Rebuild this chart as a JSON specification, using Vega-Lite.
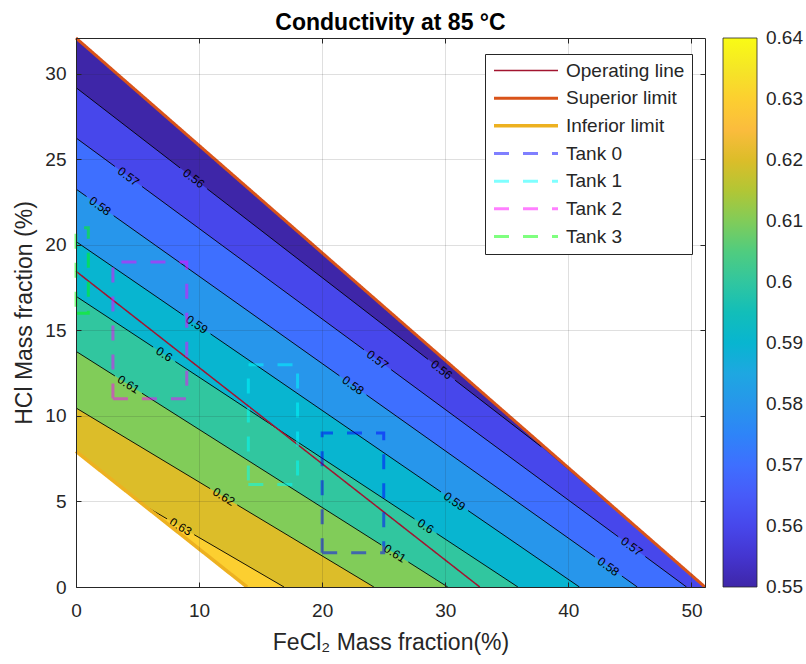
{
  "$schema": "https://vega.github.io/schema/vega-lite/v6.json",
  "width": 629,
  "height": 549,
  "autosize": {"type": "none"},
  "padding": {"left": 76, "top": 38, "right": 101, "bottom": 77},
  "background": "white",
  "title": {
    "text": "Conductivity at 85 °C",
    "fontSize": 23,
    "fontWeight": "bold",
    "font": "Liberation Sans",
    "color": "#000000",
    "anchor": "middle",
    "frame": "group",
    "baseline": "alphabetic",
    "offset": 4,
    "dy": 25
  },
  "datasets": {
    "bands": [
      {"level": 0.55, "FeCl2": 0, "HCl": 32.1},
      {"level": 0.55, "FeCl2": 51.1, "HCl": 0},
      {"level": 0.56, "FeCl2": 0, "HCl": 29.2},
      {"level": 0.56, "FeCl2": 37.8, "HCl": 8.2},
      {"level": 0.56, "FeCl2": 51.1, "HCl": 0},
      {"level": 0.57, "FeCl2": 0, "HCl": 26.26},
      {"level": 0.57, "FeCl2": 49.6, "HCl": 0},
      {"level": 0.58, "FeCl2": 0, "HCl": 23.27},
      {"level": 0.58, "FeCl2": 45.6, "HCl": 0},
      {"level": 0.59, "FeCl2": 0, "HCl": 20.2},
      {"level": 0.59, "FeCl2": 40.9, "HCl": 0},
      {"level": 0.6, "FeCl2": 0, "HCl": 17.0},
      {"level": 0.6, "FeCl2": 35.9, "HCl": 0},
      {"level": 0.61, "FeCl2": 0, "HCl": 13.78},
      {"level": 0.61, "FeCl2": 30.2, "HCl": 0},
      {"level": 0.62, "FeCl2": 0, "HCl": 10.47},
      {"level": 0.62, "FeCl2": 24.2, "HCl": 0},
      {"level": 0.63, "FeCl2": 0, "HCl": 7.08},
      {"level": 0.63, "FeCl2": 16.9, "HCl": 0}
    ],
    "contours": [
      {"level": 0.56, "seg": "56a", "FeCl2": 0, "HCl": 29.2},
      {"level": 0.56, "seg": "56a", "FeCl2": 8.46, "HCl": 24.5},
      {"level": 0.56, "seg": "56b", "FeCl2": 10.66, "HCl": 23.28},
      {"level": 0.56, "seg": "56b", "FeCl2": 28.6, "HCl": 13.31},
      {"level": 0.56, "seg": "56c", "FeCl2": 30.8, "HCl": 12.09},
      {"level": 0.56, "seg": "56c", "FeCl2": 37.8, "HCl": 8.2},
      {"level": 0.57, "seg": "57a", "FeCl2": 0, "HCl": 26.26},
      {"level": 0.57, "seg": "57a", "FeCl2": 3.16, "HCl": 24.59},
      {"level": 0.57, "seg": "57b", "FeCl2": 5.36, "HCl": 23.42},
      {"level": 0.57, "seg": "57b", "FeCl2": 23.4, "HCl": 13.87},
      {"level": 0.57, "seg": "57c", "FeCl2": 25.6, "HCl": 12.71},
      {"level": 0.57, "seg": "57c", "FeCl2": 44.05, "HCl": 2.94},
      {"level": 0.57, "seg": "57d", "FeCl2": 46.25, "HCl": 1.78},
      {"level": 0.57, "seg": "57d", "FeCl2": 49.6, "HCl": 0},
      {"level": 0.58, "seg": "58a", "FeCl2": 0, "HCl": 23.27},
      {"level": 0.58, "seg": "58a", "FeCl2": 0.86, "HCl": 22.83},
      {"level": 0.58, "seg": "58b", "FeCl2": 3.06, "HCl": 21.71},
      {"level": 0.58, "seg": "58b", "FeCl2": 21.4, "HCl": 12.35},
      {"level": 0.58, "seg": "58c", "FeCl2": 23.6, "HCl": 11.23},
      {"level": 0.58, "seg": "58c", "FeCl2": 42.15, "HCl": 1.76},
      {"level": 0.58, "seg": "58d", "FeCl2": 44.35, "HCl": 0.64},
      {"level": 0.58, "seg": "58d", "FeCl2": 45.6, "HCl": 0},
      {"level": 0.59, "seg": "59a", "FeCl2": 0, "HCl": 20.2},
      {"level": 0.59, "seg": "59a", "FeCl2": 8.73, "HCl": 15.89},
      {"level": 0.59, "seg": "59b", "FeCl2": 10.93, "HCl": 14.8},
      {"level": 0.59, "seg": "59b", "FeCl2": 29.65, "HCl": 5.56},
      {"level": 0.59, "seg": "59c", "FeCl2": 31.85, "HCl": 4.47},
      {"level": 0.59, "seg": "59c", "FeCl2": 40.9, "HCl": 0},
      {"level": 0.6, "seg": "60a", "FeCl2": 0, "HCl": 17.0},
      {"level": 0.6, "seg": "60a", "FeCl2": 6.27, "HCl": 14.03},
      {"level": 0.6, "seg": "60b", "FeCl2": 8.07, "HCl": 13.18},
      {"level": 0.6, "seg": "60b", "FeCl2": 27.5, "HCl": 3.98},
      {"level": 0.6, "seg": "60c", "FeCl2": 29.3, "HCl": 3.13},
      {"level": 0.6, "seg": "60c", "FeCl2": 35.9, "HCl": 0},
      {"level": 0.61, "seg": "61a", "FeCl2": 0, "HCl": 13.78},
      {"level": 0.61, "seg": "61a", "FeCl2": 3.16, "HCl": 12.34},
      {"level": 0.61, "seg": "61b", "FeCl2": 5.36, "HCl": 11.33},
      {"level": 0.61, "seg": "61b", "FeCl2": 24.8, "HCl": 2.46},
      {"level": 0.61, "seg": "61c", "FeCl2": 27.0, "HCl": 1.46},
      {"level": 0.61, "seg": "61c", "FeCl2": 30.2, "HCl": 0},
      {"level": 0.62, "seg": "62a", "FeCl2": 0, "HCl": 10.47},
      {"level": 0.62, "seg": "62a", "FeCl2": 10.9, "HCl": 5.75},
      {"level": 0.62, "seg": "62b", "FeCl2": 13.1, "HCl": 4.8},
      {"level": 0.62, "seg": "62b", "FeCl2": 24.2, "HCl": 0},
      {"level": 0.63, "seg": "63a", "FeCl2": 6.0, "HCl": 4.57},
      {"level": 0.63, "seg": "63a", "FeCl2": 7.4, "HCl": 3.98},
      {"level": 0.63, "seg": "63b", "FeCl2": 9.6, "HCl": 3.06},
      {"level": 0.63, "seg": "63b", "FeCl2": 16.9, "HCl": 0}
    ],
    "labels": [
      {"level": 0.56, "FeCl2": 9.56, "HCl": 23.89},
      {"level": 0.56, "FeCl2": 29.7, "HCl": 12.7},
      {"level": 0.57, "FeCl2": 4.26, "HCl": 24.0},
      {"level": 0.57, "FeCl2": 24.5, "HCl": 13.29},
      {"level": 0.57, "FeCl2": 45.15, "HCl": 2.36},
      {"level": 0.58, "FeCl2": 1.96, "HCl": 22.27},
      {"level": 0.58, "FeCl2": 22.5, "HCl": 11.79},
      {"level": 0.58, "FeCl2": 43.25, "HCl": 1.2},
      {"level": 0.59, "FeCl2": 9.83, "HCl": 15.35},
      {"level": 0.59, "FeCl2": 30.75, "HCl": 5.01},
      {"level": 0.6, "FeCl2": 7.17, "HCl": 13.61},
      {"level": 0.6, "FeCl2": 28.4, "HCl": 3.55},
      {"level": 0.61, "FeCl2": 4.26, "HCl": 11.84},
      {"level": 0.61, "FeCl2": 25.9, "HCl": 1.96},
      {"level": 0.62, "FeCl2": 12.0, "HCl": 5.28},
      {"level": 0.63, "FeCl2": 8.5, "HCl": 3.52}
    ],
    "lines": [
      {"series": "Operating line", "pt": 0, "FeCl2": 0, "HCl": 18.46},
      {"series": "Operating line", "pt": 1, "FeCl2": 32.8, "HCl": 0},
      {"series": "Superior limit", "pt": 0, "FeCl2": 0, "HCl": 32.1},
      {"series": "Superior limit", "pt": 1, "FeCl2": 51.1, "HCl": 0},
      {"series": "Inferior limit", "pt": 0, "FeCl2": 0, "HCl": 7.93},
      {"series": "Inferior limit", "pt": 1, "FeCl2": 13.9, "HCl": 0},
      {"series": "Tank 0", "pt": 0, "FeCl2": 20, "HCl": 2},
      {"series": "Tank 0", "pt": 1, "FeCl2": 25, "HCl": 2},
      {"series": "Tank 0", "pt": 2, "FeCl2": 25, "HCl": 9},
      {"series": "Tank 0", "pt": 3, "FeCl2": 20, "HCl": 9},
      {"series": "Tank 0", "pt": 4, "FeCl2": 20, "HCl": 2},
      {"series": "Tank 1", "pt": 0, "FeCl2": 14, "HCl": 6},
      {"series": "Tank 1", "pt": 1, "FeCl2": 18, "HCl": 6},
      {"series": "Tank 1", "pt": 2, "FeCl2": 18, "HCl": 13},
      {"series": "Tank 1", "pt": 3, "FeCl2": 14, "HCl": 13},
      {"series": "Tank 1", "pt": 4, "FeCl2": 14, "HCl": 6},
      {"series": "Tank 2", "pt": 0, "FeCl2": 3, "HCl": 11},
      {"series": "Tank 2", "pt": 1, "FeCl2": 9, "HCl": 11},
      {"series": "Tank 2", "pt": 2, "FeCl2": 9, "HCl": 19},
      {"series": "Tank 2", "pt": 3, "FeCl2": 3, "HCl": 19},
      {"series": "Tank 2", "pt": 4, "FeCl2": 3, "HCl": 11},
      {"series": "Tank 3", "pt": 0, "FeCl2": 0, "HCl": 16},
      {"series": "Tank 3", "pt": 1, "FeCl2": 1, "HCl": 16},
      {"series": "Tank 3", "pt": 2, "FeCl2": 1, "HCl": 21},
      {"series": "Tank 3", "pt": 3, "FeCl2": 0, "HCl": 21},
      {"series": "Tank 3", "pt": 4, "FeCl2": 0, "HCl": 16}
    ]
  },
  "layer": [
    {
      "encoding": {
        "x": {
          "field": "FeCl2",
          "type": "quantitative",
          "scale": {"domain": [0, 51.1], "nice": false, "zero": false},
          "axis": {
            "orient": "bottom",
            "title": "FeCl₂ Mass fraction(%)",
            "values": [0, 10, 20, 30, 40, 50],
            "grid": true,
            "tickSize": -5,
            "labelPadding": 19.5,
            "titlePadding": 11,
            "labelFlush": false,
            "zindex": 1
          }
        },
        "y": {
          "field": "HCl",
          "type": "quantitative",
          "scale": {"domain": [0, 32.1], "nice": false, "zero": false},
          "axis": {
            "orient": "left",
            "title": "HCl Mass fraction (%)",
            "values": [0, 5, 10, 15, 20, 25, 30],
            "grid": true,
            "tickSize": -5,
            "labelPadding": 15,
            "titlePadding": 8,
            "labelFlush": false,
            "zindex": 1
          }
        }
      },
      "layer": [
        {
          "data": {"name": "bands"},
          "mark": {"type": "area", "orient": "vertical", "interpolate": "linear"},
          "encoding": {
            "y2": {"datum": 0},
            "detail": {"field": "level", "type": "nominal"},
            "fill": {
              "field": "level",
              "type": "quantitative",
              "scale": {
                "domain": [0.55, 0.555, 0.56, 0.565, 0.57, 0.575, 0.58, 0.585, 0.59, 0.595, 0.6, 0.605, 0.61, 0.615, 0.62, 0.625, 0.63, 0.635, 0.64],
                "range": ["#3e26a8", "#4435d0", "#4747eb", "#475bf9", "#3e6fff", "#2e84f8", "#2796eb", "#1ea7e1", "#08b5d0", "#12beb9", "#31c69f", "#50cc7f", "#81cc59", "#b2c635", "#dcbd29", "#fbbc3d", "#fccf30", "#f5e626", "#f9fb15"]
              },
              "legend": {
                "title": null,
                "orient": "none",
                "legendX": 647,
                "legendY": 0,
                "direction": "vertical",
                "gradientLength": 549,
                "gradientThickness": 34,
                "values": [0.55, 0.56, 0.57, 0.58, 0.59, 0.6, 0.61, 0.62, 0.63, 0.64],
                "format": ".2~f",
                "labelFontSize": 19,
                "labelOffset": 9,
                "labelBaseline": "middle",
                "labelOverlap": false,
                "gradientStrokeColor": "#262626",
                "gradientStrokeWidth": 0.8,
                "padding": 0,
                "zindex": 2,
                "encode": {
                  "labels": {"update": {"baseline": {"value": "middle"}}}
                }
              }
            }
          }
        },
        {
          "data": {"name": "lines"},
          "transform": [{"filter": "datum.series === 'Inferior limit'"}],
          "mark": {"type": "area", "orient": "vertical", "color": "white"},
          "encoding": {"y2": {"datum": 0}}
        },
        {
          "data": {"name": "contours"},
          "mark": {"type": "line", "color": "#000000", "strokeWidth": 0.9},
          "encoding": {"detail": {"field": "seg", "type": "nominal"}}
        },
        {
          "data": {"name": "labels"},
          "mark": {"type": "text", "fontSize": 12, "font": "Liberation Sans", "color": "#000000", "align": "center", "baseline": "middle"},
          "encoding": {
            "text": {"field": "level", "type": "quantitative", "format": ".2~f"},
            "angle": {
              "field": "level",
              "type": "quantitative",
              "scale": {"domain": [0.56, 0.63], "range": [37.75, 30.29]},
              "legend": null
            }
          }
        },
        {
          "data": {"name": "lines"},
          "mark": {"type": "line", "strokeCap": "butt"},
          "encoding": {
            "order": {"field": "pt", "type": "quantitative"},
            "stroke": {
              "field": "series",
              "type": "nominal",
              "scale": {
                "domain": ["Operating line", "Superior limit", "Inferior limit", "Tank 0", "Tank 1", "Tank 2", "Tank 3"],
                "range": ["#a2142f", "#d95319", "#edb120", "rgba(0,0,255,0.5)", "rgba(0,255,255,0.5)", "rgba(255,0,255,0.5)", "rgba(0,255,0,0.5)"]
              },
              "legend": {
                "title": null,
                "orient": "none",
                "legendX": 409,
                "legendY": 16,
                "symbolType": "stroke",
                "symbolSize": 4096,
                "clipHeight": 19,
                "rowPadding": 7.67,
                "padding": 7,
                "labelOffset": 6,
                "labelFontSize": 19,
                "labelLimit": 300,
                "strokeColor": "#262626",
                "fillColor": "white",
                "zindex": 2
              }
            },
            "strokeDash": {
              "field": "series",
              "type": "nominal",
              "scale": {
                "domain": ["Operating line", "Superior limit", "Inferior limit", "Tank 0", "Tank 1", "Tank 2", "Tank 3"],
                "range": [[1, 0], [1, 0], [1, 0], [15, 14], [15, 14], [15, 14], [15, 14]]
              }
            },
            "strokeWidth": {
              "field": "series",
              "type": "nominal",
              "scale": {
                "type": "ordinal",
                "domain": ["Operating line", "Superior limit", "Inferior limit", "Tank 0", "Tank 1", "Tank 2", "Tank 3"],
                "range": [1.5, 3, 3.5, 3, 3, 3, 3]
              }
            }
          }
        }
      ]
    },
    {
      "data": {"values": [{"FeCl2": 0, "HCl": 0}]},
      "mark": {"type": "point", "opacity": 0},
      "encoding": {
        "x": {
          "field": "FeCl2",
          "type": "quantitative",
          "scale": {"domain": [0, 51.1], "nice": false, "zero": false},
          "axis": {"orient": "top", "labels": false, "title": null, "grid": false, "values": [0, 10, 20, 30, 40, 50], "tickSize": -5, "zindex": 1}
        },
        "y": {
          "field": "HCl",
          "type": "quantitative",
          "scale": {"domain": [0, 32.1], "nice": false, "zero": false},
          "axis": {"orient": "right", "labels": false, "title": null, "grid": false, "values": [0, 5, 10, 15, 20, 25, 30], "tickSize": -5, "zindex": 1}
        }
      }
    }
  ],
  "resolve": {"axis": {"x": "independent", "y": "independent"}},
  "config": {
    "font": "Liberation Sans",
    "view": {"stroke": null},
    "axis": {
      "domainColor": "#262626",
      "domainWidth": 1,
      "tickColor": "#262626",
      "tickWidth": 1,
      "labelFont": "Liberation Sans",
      "labelFontSize": 19,
      "labelColor": "#262626",
      "titleFont": "Liberation Sans",
      "titleFontSize": 23,
      "titleFontWeight": "normal",
      "titleColor": "#262626",
      "gridColor": "#262626",
      "gridOpacity": 0.15,
      "gridWidth": 1
    },
    "legend": {"labelFont": "Liberation Sans", "labelColor": "#262626"}
  }
}
